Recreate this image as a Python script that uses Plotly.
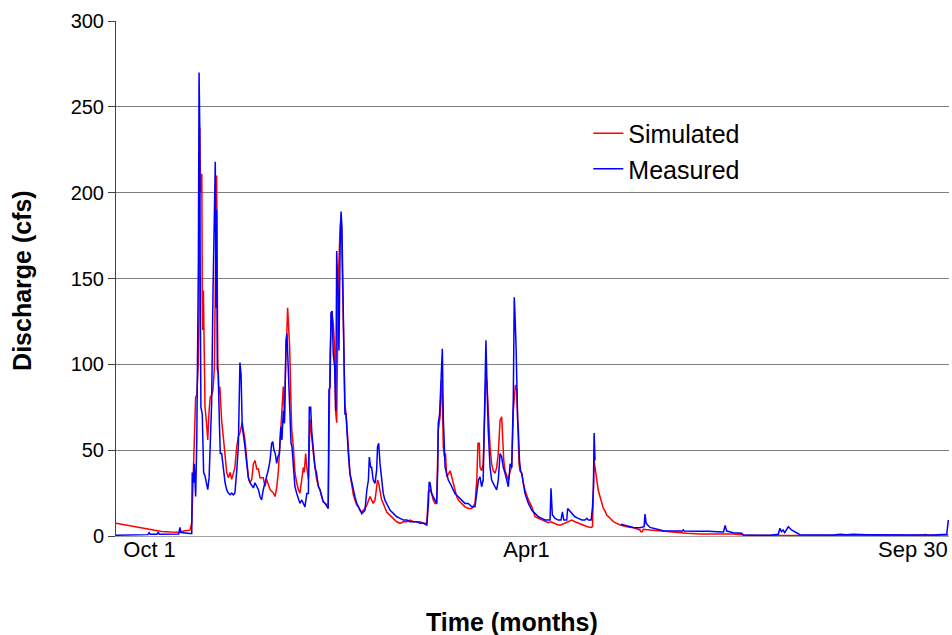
import plotly.graph_objects as go

# ---- data (days after Oct 1, discharge in cfs) ----
sim_days = [0, 2, 5, 8, 12, 15, 18, 20, 24, 28, 30, 32.4, 33.2, 33.9, 34.3, 34.9, 35.4, 35.8, 36.1, 36.4,
            36.7, 37.0, 37.6, 37.8, 38.0, 38.3, 38.6, 39.0, 39.6, 40.2, 40.8, 41.3, 41.9, 42.5, 43.1, 43.5,
            44.1, 44.6, 45.1, 45.5, 46.3, 47.0, 47.8, 48.5, 49.2, 50.0, 50.7, 51.4, 52.1, 52.9, 53.6, 54.3,
            55.0, 55.3, 56.5, 57.3, 58.0, 58.7, 59.5, 60.2, 60.9, 61.7, 62.4, 63.1, 64.5, 65.3, 66.0, 67.5,
            69.0, 69.7, 70.4, 71.1, 71.9, 72.6, 73.3, 73.8, 74.5, 74.8, 75.2, 75.7, 76.1, 76.6, 77.0, 77.7,
            78.4, 79.2, 79.9, 80.6, 81.4, 82.1, 82.5, 83.1, 83.6, 84.3, 85.0, 85.8, 86.5, 87.2, 87.9, 88.7,
            89.4, 90.1, 90.8, 91.6, 92.3, 93.0, 93.3, 93.8, 94.5, 95.2, 95.8, 96.2, 96.7, 97.4, 98.2, 98.6,
            98.9, 99.3, 99.9, 100.3, 100.8, 101.1, 101.8, 102.5, 103.3, 104.0, 104.7, 105.5, 106.2, 106.9,
            107.7, 108.4, 109.1, 109.9, 110.6, 111.3, 112.0, 112.7, 113.5, 114.2, 114.6, 115.1, 115.7, 116.4,
            117.1, 117.8, 118.6, 120.1, 121.5, 123.0, 124.5, 125.9, 127.4, 128.8, 130.3, 133.2, 134.7, 136.2,
            136.9, 137.6, 138.3, 139.0, 139.8, 140.5, 141.2, 142.0, 142.4, 142.7, 143.0, 143.4, 143.9, 144.4,
            144.9, 145.6, 146.4, 147.1, 147.8, 148.5, 149.3, 150.0, 151.5, 152.9, 154.4, 155.9, 157.3, 158.1,
            158.6, 159.2, 159.5, 160.2, 160.9, 161.7, 162.1, 162.5, 163.1, 163.9, 164.6, 165.3, 166.1, 166.8,
            167.5, 168.3, 169.0, 169.5, 169.9, 170.5, 171.2, 171.9, 172.7, 173.4, 174.1, 174.5, 175.0, 175.6,
            176.0, 176.3, 176.6, 177.0, 177.8, 178.5, 179.2, 180.7, 182.2, 183.6, 185.1, 186.5, 188.0, 189.4,
            190.6, 192.4, 193.8, 195.0, 196.8, 197.9, 199.7, 201.1, 202.6, 204.1, 205.5, 206.3, 207.0, 208.2,
            208.8, 209.2, 209.5, 209.9, 210.6, 211.3, 212.1, 212.8, 213.5, 214.3, 215.0, 216.5, 217.9, 219.4,
            220.9, 223.8, 226.7, 229.6, 230.0, 230.6, 231.0, 234.0, 241.3, 250.1, 255.9, 270.5, 274.9, 282.4,
            300, 320, 350, 355.0, 355.5, 364.7]
sim_cfs = [7.5, 7.0, 6.3, 5.5, 4.5, 3.6, 3.2, 2.6, 2.3, 2.2, 3.0, 3.4, 7.6, 40, 66, 81, 82, 90, 102, 130,
           238, 200, 211, 141, 120, 143, 91, 75, 67, 56, 73, 81, 82, 85, 98, 150,
           210, 102, 83, 87, 67, 58, 46, 37, 34, 37, 33, 36, 40, 52, 58, 60,
           64, 66, 56, 44, 34, 31, 33, 42, 44, 39, 39, 34, 34, 29, 33, 27,
           25, 23, 28, 37, 52, 71, 87, 68, 110, 116, 133, 120, 110, 81, 62, 52,
           37, 31, 27, 25, 33, 40, 37, 48, 40, 33, 68, 56, 48, 40, 33, 29,
           27, 23, 20, 19, 18, 19, 50, 106, 131, 124, 110, 73, 66, 149, 180, 186,
           174, 149, 110, 77, 71, 66, 52, 36.5, 28.7, 24, 21, 18, 17, 15,
           14, 15, 16, 18, 21, 23, 21, 19, 21, 27, 32.6, 30.7, 24.8, 21,
           19, 16, 14, 12, 10.3, 8.3, 7.4, 8.3, 8.3, 9.3, 8.3, 8.3, 7.4, 7.4,
           26, 27, 24.8, 21, 19, 19, 61.7, 69.4, 83, 90.8, 81, 52, 46, 48,
           34.5, 36.5, 38, 34.5, 30.7, 26.8, 22.9, 21, 19, 17, 16, 16, 19, 32.6,
           54, 54, 40, 38, 42, 73, 94.7, 90, 73, 52, 42, 38, 36.5, 40,
           48, 67.5, 69.4, 55, 44, 38, 34.5, 32.6, 38, 40, 73, 80, 88, 85,
           62, 54, 42, 38, 36.5, 30.7, 26.8, 21, 17, 11.2, 10.3, 9.3, 8.3, 7.8,
           8.3, 7.4, 6.4, 6.4, 7.4, 8.3, 9.3, 8.3, 7.4, 6.4, 6.0, 5.5, 5.2, 5.0,
           5.5, 28.7, 44, 40, 32.6, 26.8, 22.9, 19, 16.3, 14.5, 12.2, 10.3, 8.4, 7.4,
           6.4, 5.4, 4.8, 3.5, 2.5, 2.5, 3.9, 3.5, 2.5, 1.6, 1.2, 1.2, 0.6, 0.3,
           0.3, 0.3, 0.3, 0.8, 0.3, 0.6]

meas_days = [0, 10, 14.0, 14.5, 15.0, 18.0, 18.5, 19.0, 27.5, 28.0, 28.5, 32.3, 33.2, 33.4, 33.9, 34.3,
             34.9, 35.4, 35.8, 36.1, 36.4, 36.7, 36.9, 37.2, 37.8, 38.4, 39.0, 39.6, 40.2, 40.8, 41.3, 41.9,
             42.5, 43.1, 43.5, 43.8, 44.1, 44.4, 44.8, 45.3, 45.7, 46.3, 47.0, 47.8, 48.5, 49.2, 50.0, 50.7,
             51.4, 52.1, 52.9, 53.6, 54.3, 54.8, 55.3, 56.0, 56.5, 57.3, 58.0, 58.7, 59.5, 60.2, 60.9, 61.7,
             62.4, 63.1, 63.8, 64.5, 65.3, 66.0, 66.7, 67.5, 68.2, 68.7, 69.2, 69.8, 70.4, 70.9, 71.6, 72.2,
             72.7, 73.3, 73.8, 74.2, 74.5, 74.9, 75.4, 75.8, 76.2, 76.7, 77.1, 77.7, 78.4, 79.2, 79.9, 80.6,
             81.4, 82.1, 82.8, 83.6, 84.3, 84.7, 85.3, 85.8, 86.5, 87.2, 87.9, 88.7, 89.4, 90.1, 90.8, 91.6,
             92.3, 93.0, 93.3, 93.8, 94.2, 94.7, 95.2, 95.8, 96.3, 96.7, 97.3, 97.7, 98.2, 98.6, 99.0, 99.3,
             99.6, 99.9, 100.3, 100.8, 101.1, 101.8, 102.5, 103.3, 104.0, 104.7, 105.5, 106.2, 106.9, 107.7,
             108.4, 109.1, 109.9, 110.6, 111.0, 111.6, 112.0, 112.7, 113.5, 114.2, 114.6, 115.1, 115.7, 116.4,
             117.1, 117.8, 118.6, 119.3, 120.1, 121.5, 123.0, 124.5, 125.9, 127.4, 128.8, 131.8, 133.2, 134.7,
             136.2, 136.9, 137.2, 137.6, 138.3, 139.0, 139.8, 140.5, 141.0, 141.2, 141.8, 142.4, 143.0, 143.4,
             143.9, 144.2, 144.9, 145.6, 146.4, 147.1, 147.8, 148.5, 150.0, 151.5, 152.9, 154.4, 155.9, 157.3,
             158.1, 158.8, 159.5, 160.2, 160.9, 161.7, 162.1, 162.5, 163.1, 163.9, 164.6, 165.3, 166.1, 166.8,
             167.5, 168.3, 169.0, 169.7, 170.5, 171.2, 171.9, 172.7, 173.4, 174.1, 174.5, 174.8, 175.3, 176.0,
             176.3, 176.8, 177.3, 177.8, 178.5, 179.2, 180.7, 182.2, 183.6, 185.1, 186.5, 188.0, 189.4, 190.2,
             190.6, 191.2, 192.4, 193.8, 195.0, 195.6, 196.2, 197.5, 197.9, 198.5, 199.7, 201.1, 202.6, 204.1,
             205.5, 206.3, 207.0, 208.2, 208.8, 209.2, 209.5, 209.9, 210.2, 221.2, 223.8, 226.7, 229.6, 231.4,
             231.8, 232.3, 234.0, 235.5, 236.9, 239.8, 245.6, 248.2, 248.6, 249.0, 254.6, 257.5, 258.1, 259.6,
             265.4, 266.2, 266.9, 267.6, 270.5, 274.2, 274.9, 286.6, 290.2, 290.9, 291.6, 292.3, 293.0, 294.6,
             296.0, 298.2, 299.7, 314.3, 317.2, 320, 323.1, 329, 343.7, 358, 364.0, 364.7]
meas_cfs = [0.5, 0.5, 0.8, 2.0, 1.0, 1.0, 2.2, 1.0, 1.2, 5.0, 2.0, 1.5, 1.5, 37, 31, 42,
            23, 56, 104, 160, 270, 238, 151, 75, 71, 37, 35, 31, 27, 34, 52, 77,
            141, 196, 218, 133, 190, 97, 95, 66, 48, 48, 39, 31, 27, 25, 24, 25,
            24, 25, 38, 52, 101, 94, 64, 58, 52, 42, 34, 31, 29, 28, 31, 29,
            27, 23, 21, 26.8, 30.7, 34.5, 38.4, 44, 54, 55, 50, 48, 42.3, 46, 48, 63.6,
            56, 73, 65.6, 92.7, 114, 118, 96.6, 90.8, 71.4, 54, 52, 40.3, 28.7, 24.8, 21, 19,
            21, 19, 17, 24.8, 24.8, 75, 75, 60, 48, 40, 36.5, 28.7, 26.8, 22.9, 20, 19,
            17, 16, 85, 87, 130, 131, 106, 98.5, 73, 166, 140, 108, 168, 189, 180, 150,
            110, 102, 71, 71, 62, 48, 36.5, 30.7, 26.8, 22.9, 19, 17, 15, 13,
            14, 15, 26.8, 32.6, 46, 40, 40, 32.6, 30.7, 38.4, 52, 54, 42, 32.6,
            24.8, 21, 19, 17, 15, 13.2, 11.2, 10.3, 9.3, 9.3, 8.3, 8.3, 7.4, 7.4,
            6.4, 19, 31.5, 31, 24.8, 22.9, 21, 19, 40, 65.6, 71, 90.8, 109, 69.4,
            48, 40, 36.5, 32.6, 30.7, 28.7, 26.8, 24.8, 22.9, 21, 19, 19, 17, 17,
            24.8, 32.6, 34.5, 28.7, 32.6, 81, 114, 90.8, 61.7, 40, 32.6, 30.7, 28.7, 26.8,
            32.6, 48, 46, 40, 36.5, 32.6, 28.7, 42, 40, 81, 139, 130, 110, 67.5,
            61.7, 44, 38, 36.5, 30.7, 24.8, 19, 15, 13.2, 11.2, 10.3, 9.3, 9.3, 9.3,
            27.8, 12.2, 10.3, 9.3, 9.3, 14, 9.3, 9.3, 16, 15, 13.2, 11.2, 10.3, 9.3,
            9.3, 10.3, 9.3, 9.3, 17, 28.7, 60, 44, None, 6.9, 5.8, 5.0, 4.8, 5.4,
            12.8, 7.4, 5.0, 4.5, 4.0, 3.1, 2.9, 2.9, 3.5, 2.9, 2.7, 2.7, 3.1, 2.7,
            2.3, 2.3, 6.2, 2.9, 1.9, 1.6, 0.6, 0.4, 1.0, 4.5, 2.5, 3.5, 2.0, 5.4,
            3.5, 1.6, 0.8, 0.6, 1.0, 0.8, 1.0, 0.8, 0.6, 0.6, 1.0, 9.3]

x_tick_days = [14.7, 179.9, 349.2]
x_tick_text = ["Oct 1", "Apr1", "Sep 30"]
y_ticks = [0, 50, 100, 150, 200, 250, 300]

FONT = "Liberation Sans, Arial, sans-serif"

fig = go.Figure()
fig.add_trace(go.Scatter(x=sim_days, y=sim_cfs, mode="lines", name="Simulated",
                         line=dict(color="#FF0000", width=1.5), legendgroup="a"))
fig.add_trace(go.Scatter(x=meas_days, y=meas_cfs, mode="lines", name="Measured",
                         line=dict(color="#0000FF", width=1.5), legendgroup="b",
                         connectgaps=False))

fig.update_layout(
    width=952, height=635,
    margin=dict(l=116, r=3, t=21, b=99),
    paper_bgcolor="white", plot_bgcolor="white",
    font=dict(family=FONT, size=21, color="black"),
    showlegend=True,
    legend=dict(x=0.567, y=0.826, xanchor="left", yanchor="top",
                bgcolor="rgba(0,0,0,0)", font=dict(size=25),
                tracegroupgap=0, traceorder="grouped"),
    xaxis=dict(range=[0, 365], showgrid=False, zeroline=False,
               tickmode="array", tickvals=x_tick_days, ticktext=x_tick_text,
               ticks="", showline=True, linecolor="#A0A0A0", linewidth=1,
               tickfont=dict(size=22), ticklabelstandoff=-6),
    yaxis=dict(range=[0, 300], tickmode="array", tickvals=y_ticks,
               showgrid=True, gridcolor="#808080", gridwidth=1,
               zeroline=False, showline=True, linecolor="#404040", linewidth=1,
               ticks="outside", ticklen=7, tickcolor="#404040",
               tickfont=dict(size=20), ticklabelstandoff=0),
    annotations=[
        dict(text="<b>Discharge (cfs)</b>", xref="paper", yref="paper",
             x=-0.113, y=0.497, textangle=-90, showarrow=False,
             font=dict(size=25), xanchor="center", yanchor="middle"),
        dict(text="<b>Time (months)</b>", xref="paper", yref="paper",
             x=0.475, y=-0.167, showarrow=False, font=dict(size=25),
             xanchor="center", yanchor="middle"),
    ],
)

# remove the browser's default 8px body margin so the figure fills the window exactly
fig.write_html("out.html", config={"displayModeBar": False},
               post_script="document.body.style.margin='0';")
